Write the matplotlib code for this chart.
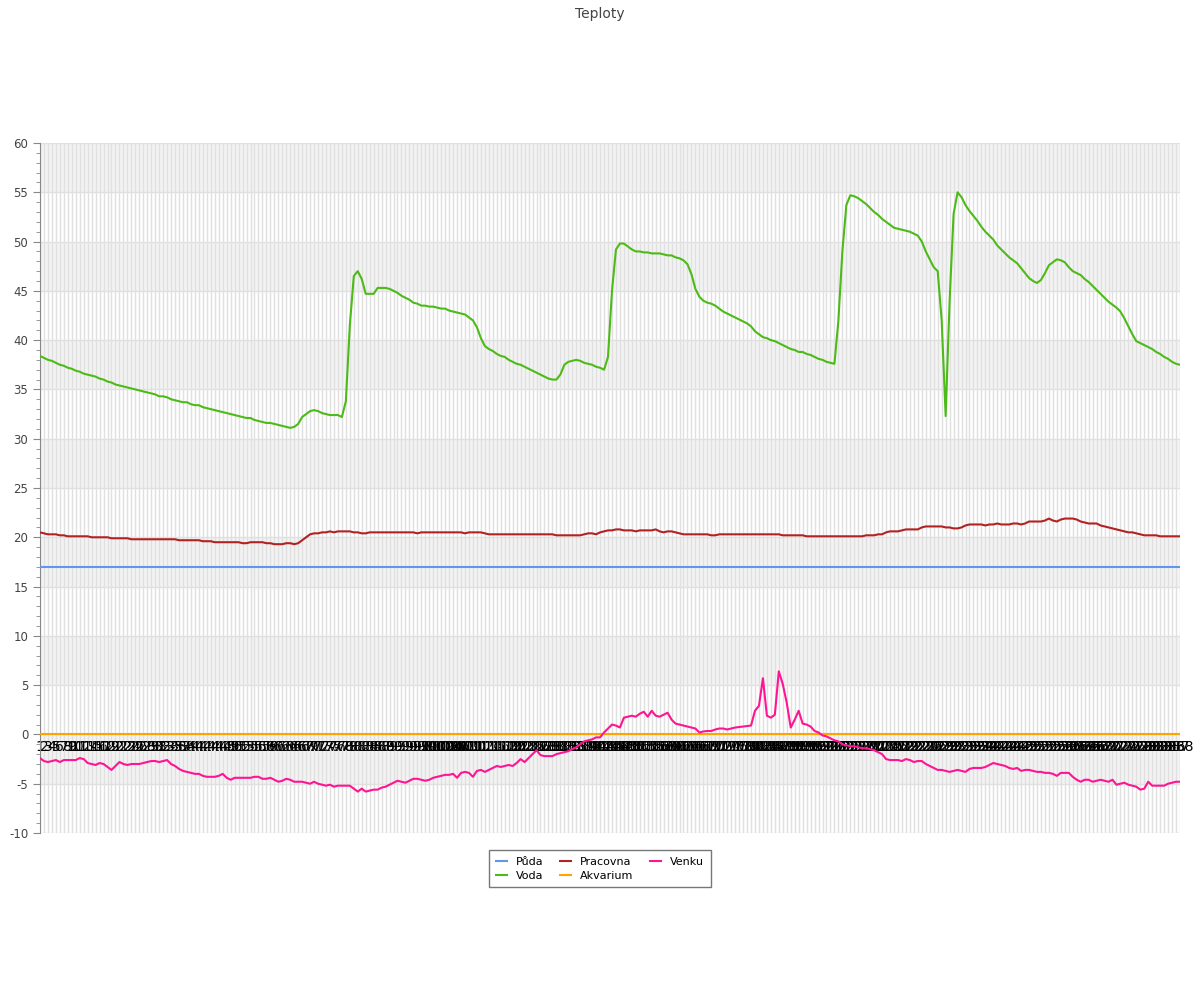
import numpy as np
import matplotlib.pyplot as plt

plt.rcParams['axes.unicode_minus'] = False

# 5-minute readings over one day (288 samples), one row per hour
voda = [
    38.4, 38.2, 38.0, 37.9, 37.7, 37.5, 37.4, 37.2, 37.1, 36.9, 36.8, 36.6,
    36.5, 36.4, 36.3, 36.1, 36.0, 35.8, 35.7, 35.5, 35.4, 35.3, 35.2, 35.1,
    35.0, 34.9, 34.8, 34.7, 34.6, 34.5, 34.3, 34.3, 34.2, 34.0, 33.9, 33.8,
    33.7, 33.7, 33.5, 33.4, 33.4, 33.2, 33.1, 33.0, 32.9, 32.8, 32.7, 32.6,
    32.5, 32.4, 32.3, 32.2, 32.1, 32.1, 31.9, 31.8, 31.7, 31.6, 31.6, 31.5,
    31.4, 31.3, 31.2, 31.1, 31.2, 31.5, 32.2, 32.5, 32.8, 32.9, 32.8, 32.6,
    32.5, 32.4, 32.4, 32.4, 32.2, 33.8, 41.5, 46.5, 47.0, 46.2, 44.7, 44.7,
    44.7, 45.3, 45.3, 45.3, 45.2, 45.0, 44.8, 44.5, 44.3, 44.1, 43.8, 43.7,
    43.5, 43.5, 43.4, 43.4, 43.3, 43.2, 43.2, 43.0, 42.9, 42.8, 42.7, 42.6,
    42.3, 42.0, 41.3, 40.2, 39.4, 39.1, 38.9, 38.6, 38.4, 38.3, 38.0, 37.8,
    37.6, 37.5, 37.3, 37.1, 36.9, 36.7, 36.5, 36.3, 36.1, 36.0, 36.0, 36.5,
    37.5, 37.8, 37.9, 38.0, 37.9, 37.7, 37.6, 37.5, 37.3, 37.2, 37.0, 38.3,
    45.0, 49.2, 49.8, 49.8, 49.5, 49.2, 49.0, 49.0, 48.9, 48.9, 48.8, 48.8,
    48.8, 48.7, 48.6, 48.6, 48.4, 48.3, 48.1, 47.7, 46.7, 45.2, 44.4, 44.0,
    43.8, 43.7, 43.5, 43.2, 42.9, 42.7, 42.5, 42.3, 42.1, 41.9, 41.7, 41.4,
    40.9, 40.6, 40.3, 40.2, 40.0, 39.9, 39.7, 39.5, 39.3, 39.1, 39.0, 38.8,
    38.8, 38.6, 38.5, 38.3, 38.1, 38.0, 37.8, 37.7, 37.6, 42.0, 49.0, 53.7,
    54.7, 54.6, 54.4, 54.1, 53.8, 53.4, 53.0, 52.7, 52.3, 52.0, 51.7, 51.4,
    51.3, 51.2, 51.1, 51.0, 50.8, 50.6, 50.0, 49.0, 48.2, 47.4, 47.0, 42.0,
    32.3, 44.0, 52.8, 55.0, 54.5, 53.7, 53.1, 52.6, 52.1, 51.5, 51.0, 50.6,
    50.2, 49.6, 49.2, 48.8, 48.4, 48.1, 47.8, 47.3, 46.8, 46.3, 46.0, 45.8,
    46.1, 46.8, 47.6, 47.9, 48.2, 48.1, 47.9, 47.4, 47.0, 46.8, 46.6, 46.2,
    45.9, 45.5, 45.1, 44.7, 44.3, 43.9, 43.6, 43.3, 42.9, 42.2, 41.4, 40.6,
    39.9, 39.7, 39.5, 39.3, 39.1, 38.8, 38.6, 38.3, 38.1, 37.8, 37.6, 37.5,
]

pracovna = [
    20.5, 20.4, 20.3, 20.3, 20.3, 20.2, 20.2, 20.1, 20.1, 20.1, 20.1, 20.1,
    20.1, 20.0, 20.0, 20.0, 20.0, 20.0, 19.9, 19.9, 19.9, 19.9, 19.9, 19.8,
    19.8, 19.8, 19.8, 19.8, 19.8, 19.8, 19.8, 19.8, 19.8, 19.8, 19.8, 19.7,
    19.7, 19.7, 19.7, 19.7, 19.7, 19.6, 19.6, 19.6, 19.5, 19.5, 19.5, 19.5,
    19.5, 19.5, 19.5, 19.4, 19.4, 19.5, 19.5, 19.5, 19.5, 19.4, 19.4, 19.3,
    19.3, 19.3, 19.4, 19.4, 19.3, 19.4, 19.7, 20.0, 20.3, 20.4, 20.4, 20.5,
    20.5, 20.6, 20.5, 20.6, 20.6, 20.6, 20.6, 20.5, 20.5, 20.4, 20.4, 20.5,
    20.5, 20.5, 20.5, 20.5, 20.5, 20.5, 20.5, 20.5, 20.5, 20.5, 20.5, 20.4,
    20.5, 20.5, 20.5, 20.5, 20.5, 20.5, 20.5, 20.5, 20.5, 20.5, 20.5, 20.4,
    20.5, 20.5, 20.5, 20.5, 20.4, 20.3, 20.3, 20.3, 20.3, 20.3, 20.3, 20.3,
    20.3, 20.3, 20.3, 20.3, 20.3, 20.3, 20.3, 20.3, 20.3, 20.3, 20.2, 20.2,
    20.2, 20.2, 20.2, 20.2, 20.2, 20.3, 20.4, 20.4, 20.3, 20.5, 20.6, 20.7,
    20.7, 20.8, 20.8, 20.7, 20.7, 20.7, 20.6, 20.7, 20.7, 20.7, 20.7, 20.8,
    20.6, 20.5, 20.6, 20.6, 20.5, 20.4, 20.3, 20.3, 20.3, 20.3, 20.3, 20.3,
    20.3, 20.2, 20.2, 20.3, 20.3, 20.3, 20.3, 20.3, 20.3, 20.3, 20.3, 20.3,
    20.3, 20.3, 20.3, 20.3, 20.3, 20.3, 20.3, 20.2, 20.2, 20.2, 20.2, 20.2,
    20.2, 20.1, 20.1, 20.1, 20.1, 20.1, 20.1, 20.1, 20.1, 20.1, 20.1, 20.1,
    20.1, 20.1, 20.1, 20.1, 20.2, 20.2, 20.2, 20.3, 20.3, 20.5, 20.6, 20.6,
    20.6, 20.7, 20.8, 20.8, 20.8, 20.8, 21.0, 21.1, 21.1, 21.1, 21.1, 21.1,
    21.0, 21.0, 20.9, 20.9, 21.0, 21.2, 21.3, 21.3, 21.3, 21.3, 21.2, 21.3,
    21.3, 21.4, 21.3, 21.3, 21.3, 21.4, 21.4, 21.3, 21.4, 21.6, 21.6, 21.6,
    21.6, 21.7, 21.9, 21.7, 21.6, 21.8, 21.9, 21.9, 21.9, 21.8, 21.6, 21.5,
    21.4, 21.4, 21.4, 21.2, 21.1, 21.0, 20.9, 20.8, 20.7, 20.6, 20.5, 20.5,
    20.4, 20.3, 20.2, 20.2, 20.2, 20.2, 20.1, 20.1, 20.1, 20.1, 20.1, 20.1,
]

venku = [
    -2.4, -2.7, -2.8, -2.7, -2.6, -2.8, -2.6, -2.6, -2.6, -2.6, -2.4, -2.5,
    -2.9, -3.0, -3.1, -2.9, -3.0, -3.3, -3.6, -3.2, -2.8, -3.0, -3.1, -3.0,
    -3.0, -3.0, -2.9, -2.8, -2.7, -2.7, -2.8, -2.7, -2.6, -3.0, -3.2, -3.5,
    -3.7, -3.8, -3.9, -4.0, -4.0, -4.2, -4.3, -4.3, -4.3, -4.2, -4.0, -4.4,
    -4.6, -4.4, -4.4, -4.4, -4.4, -4.4, -4.3, -4.3, -4.5, -4.5, -4.4, -4.6,
    -4.8, -4.7, -4.5, -4.6, -4.8, -4.8, -4.8, -4.9, -5.0, -4.8, -5.0, -5.1,
    -5.2, -5.1, -5.3, -5.2, -5.2, -5.2, -5.2, -5.5, -5.8, -5.5, -5.8, -5.7,
    -5.6, -5.6, -5.4, -5.3, -5.1, -4.9, -4.7, -4.8, -4.9, -4.7, -4.5, -4.5,
    -4.6, -4.7, -4.6, -4.4, -4.3, -4.2, -4.1, -4.1, -4.0, -4.4, -3.9, -3.8,
    -3.9, -4.3, -3.7, -3.6, -3.8, -3.6, -3.4, -3.2, -3.3, -3.2, -3.1, -3.2,
    -2.9, -2.5, -2.8, -2.4, -2.0, -1.6, -2.1, -2.2, -2.2, -2.2, -2.0, -1.9,
    -1.8, -1.7, -1.5, -1.3, -1.0, -0.7, -0.6, -0.5, -0.3, -0.3, 0.2, 0.6,
    1.0, 0.9, 0.7, 1.7, 1.8, 1.9, 1.8, 2.1, 2.3, 1.8, 2.4, 1.9,
    1.8, 2.0, 2.2, 1.5, 1.1, 1.0, 0.9, 0.8, 0.7, 0.6, 0.2, 0.3,
    0.35, 0.35, 0.5, 0.6, 0.6, 0.5, 0.6, 0.7, 0.75, 0.8, 0.85, 0.9,
    2.4, 2.9, 5.7, 1.9, 1.7, 2.0, 6.4, 5.1, 3.2, 0.7, 1.5, 2.4,
    1.1, 1.0, 0.8, 0.35, 0.2, -0.1, -0.2, -0.4, -0.6, -0.7, -1.0, -1.1,
    -1.2, -1.2, -1.3, -1.4, -1.4, -1.5, -1.6, -1.8, -2.0, -2.5, -2.6, -2.6,
    -2.6, -2.7, -2.5, -2.6, -2.8, -2.7, -2.7, -3.0, -3.2, -3.4, -3.6, -3.6,
    -3.7, -3.8, -3.7, -3.6, -3.7, -3.8, -3.5, -3.4, -3.4, -3.4, -3.3, -3.1,
    -2.9, -3.0, -3.1, -3.2, -3.4, -3.5, -3.4, -3.7, -3.6, -3.6, -3.7, -3.8,
    -3.8, -3.9, -3.9, -4.0, -4.2, -3.9, -3.9, -3.9, -4.3, -4.6, -4.8, -4.6,
    -4.6, -4.8, -4.7, -4.6, -4.7, -4.8, -4.6, -5.1, -5.0, -4.9, -5.1, -5.2,
    -5.3, -5.6, -5.5, -4.8, -5.2, -5.2, -5.2, -5.2, -5.0, -4.9, -4.8, -4.8,
]

puda = [17.0] * len(voda)
akvarium = [0.0] * len(voda)
labels = [str(i + 1) for i in range(len(voda))]

series = [
    ('Půda', puda, '#6495ED'),
    ('Voda', voda, '#4CBB17'),
    ('Pracovna', pracovna, '#B22222'),
    ('Akvarium', akvarium, '#FFA500'),
    ('Venku', venku, '#FF1493'),
]

fig = plt.figure(figsize=(12, 10), dpi=100)
ax = fig.add_axes([40 / 1200, 1 - 833 / 1000, 1140 / 1200, 690 / 1000])

x = np.arange(len(voda))
for lo in range(-5, 60, 10):
    ax.axhspan(lo, lo + 5, color='#f3f3f3', zorder=0, lw=0)

for name, vals, col in series:
    ax.plot(x, vals, color=col, lw=1.5, label=name, zorder=3)

ax.set_xlim(0, len(voda) - 1)
ax.set_ylim(-10, 60)
ax.set_yticks(np.arange(-10, 61, 5))
ax.set_yticks(np.arange(-10, 61, 1), minor=True)
ax.set_xticks(x)
ax.set_xticklabels(labels, fontsize=7, color='#444444')
ax.tick_params(axis='x', length=0, pad=4)
ax.tick_params(axis='y', which='major', length=5, color='#888888', labelsize=8.5, labelcolor='#444444')
ax.tick_params(axis='y', which='minor', length=3, color='#888888')
ax.grid(True, which='major', color='#e0e0e0', lw=1, zorder=1)
ax.set_axisbelow(True)

for s in ['top', 'right']:
    ax.spines[s].set_visible(False)
ax.spines['bottom'].set_position(('data', 0))
ax.spines['bottom'].set_visible(False)
ax.spines['left'].set_color('#888888')

fig.suptitle('Teploty', y=0.993, fontsize=10, color='#444444')
fig.legend(loc='upper center', bbox_to_anchor=(0.5, 0.15), ncol=3, fontsize=8,
           handlelength=1.0, columnspacing=1.5, handletextpad=0.8, fancybox=False,
           edgecolor='#777777', framealpha=1, borderpad=0.6, labelspacing=0.35,
           borderaxespad=0)

fig.savefig('out.png')
